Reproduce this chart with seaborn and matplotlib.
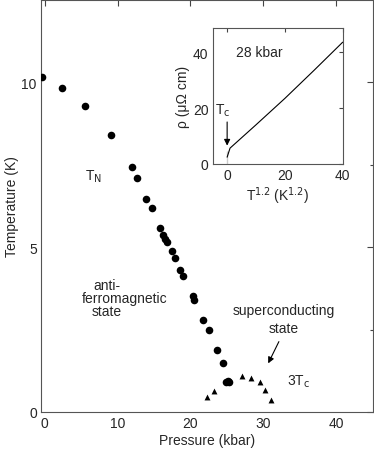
import matplotlib
matplotlib.use("Agg")
import matplotlib.pyplot as plt
import seaborn as sns
import pandas as pd

sns.set_theme(style="white")
plt.rcParams['font.family'] = ['Liberation Sans', 'DejaVu Sans']

# Néel temperature T_N (circles)
tn_pressure = [-0.4, 2.45, 5.5, 9.08, 11.96, 12.73, 13.88, 14.79, 15.88, 16.3, 16.49, 16.76,
               17.45, 17.9, 18.63, 19.0, 20.33, 20.47, 21.7, 22.6, 23.6, 24.4, 24.9, 25.1, 25.3]
tn_temp = [10.17, 9.82, 9.27, 8.4, 7.43, 7.09, 6.45, 6.18, 5.57, 5.37, 5.24, 5.17,
           4.89, 4.66, 4.3, 4.13, 3.53, 3.39, 2.79, 2.48, 1.88, 1.5, 0.9, 0.93, 0.9]

# 3 x superconducting Tc (triangles)
tc_pressure = [22.3, 23.2, 25.1, 27.1, 28.3, 29.5, 30.2, 31.0]
tc_temp3 = [0.46, 0.65, 0.9, 1.1, 1.02, 0.9, 0.66, 0.35]

# inset: resistivity vs T^1.2 at 28 kbar
inset_t12 = [0, 0, 1, 10, 20, 30, 40]
inset_rho = [0, 4.7, 5.6, 14.0, 23.5, 33.5, 43.7]

x_ticks = [0, 10, 20, 30, 40]
y_ticks = [0, 5, 10]
inset_ticks = [0, 20, 40]

df_tn = pd.DataFrame({"P": tn_pressure, "T": tn_temp})
df_tc = pd.DataFrame({"P": tc_pressure, "T": tc_temp3})
df_in = pd.DataFrame({"x": inset_t12, "y": inset_rho})

fig = plt.figure(figsize=(3.74, 4.52), dpi=100)
ax = fig.add_axes([0.1096, 0.0863, 0.8869, 0.9117])

sns.scatterplot(data=df_tn, x="P", y="T", ax=ax, marker="o", s=30, color="black",
                edgecolor="black", linewidth=0, legend=False, zorder=3)
sns.scatterplot(data=df_tc, x="P", y="T", ax=ax, marker="^", s=18, color="black",
                edgecolor="black", linewidth=0, legend=False, zorder=3)

ax.set_xlim(-0.5, 45)
ax.set_ylim(0, 12.5)
ax.set_xticks(x_ticks)
ax.set_yticks(y_ticks)
ax.set_yticks([2.5, 7.5], minor=True)
ax.set_xticks([5, 15, 25, 35], minor=True)
ax.tick_params(which="both", direction="in", top=True, right=True, length=4,
               width=0.8, color="#444444", labelsize=10, pad=3)
ax.tick_params(which="minor", length=2)
ax.tick_params(axis="x", which="minor", length=0)
for sp in ax.spines.values():
    sp.set_color("#555555")
    sp.set_linewidth(0.8)
ax.set_xlabel("Pressure (kbar)", fontsize=10, labelpad=2)
ax.set_ylabel("Temperature (K)", fontsize=10, labelpad=2)

ax.text(5.6, 7.15, r"T$_\mathrm{N}$", fontsize=10, va="center", ha="left")
ax.text(6.65, 3.85, "anti-", fontsize=10, va="center", ha="left")
ax.text(5.14, 3.45, "ferromagnetic", fontsize=10, va="center", ha="left")
ax.text(6.5, 3.06, "state", fontsize=10, va="center", ha="left")
ax.text(32.8, 3.09, "superconducting", fontsize=10, va="center", ha="center")
ax.text(32.8, 2.55, "state", fontsize=10, va="center", ha="center")
ax.annotate("", xy=(30.5, 1.40), xytext=(32.3, 2.21),
            arrowprops=dict(arrowstyle="-|>", color="black", lw=0.8, mutation_scale=9))
ax.text(33.3, 0.95, r"3T$_\mathrm{c}$", fontsize=10, va="center", ha="left")

# inset
ins = fig.add_axes([0.5687, 0.6356, 0.3476, 0.2996])
sns.lineplot(data=df_in, x="x", y="y", ax=ins, color="black", linewidth=0.8, sort=False)
ins.set_xlim(-5, 40)
ins.set_ylim(0, 48.7)
ins.set_xticks(inset_ticks)
ins.set_yticks(inset_ticks)
ins.tick_params(direction="in", top=True, right=True, length=3, width=0.8,
                color="#444444", labelsize=10, pad=3)
for sp in ins.spines.values():
    sp.set_color("#555555")
    sp.set_linewidth(0.8)
ins.set_xlabel(r"T$^{1.2}$ (K$^{1.2}$)", fontsize=10, labelpad=2)
ins.set_ylabel("ρ (μΩ cm)", fontsize=10, labelpad=2)
ins.text(2.9, 40.2, "28 kbar", fontsize=10, va="center", ha="left")
ins.text(-1.7, 19.5, r"T$_\mathrm{c}$", fontsize=10, va="center", ha="center")
ins.annotate("", xy=(0, 5.5), xytext=(0, 16),
             arrowprops=dict(arrowstyle="-|>", color="black", lw=0.8, mutation_scale=9))

fig.savefig("out.png", dpi=100)
